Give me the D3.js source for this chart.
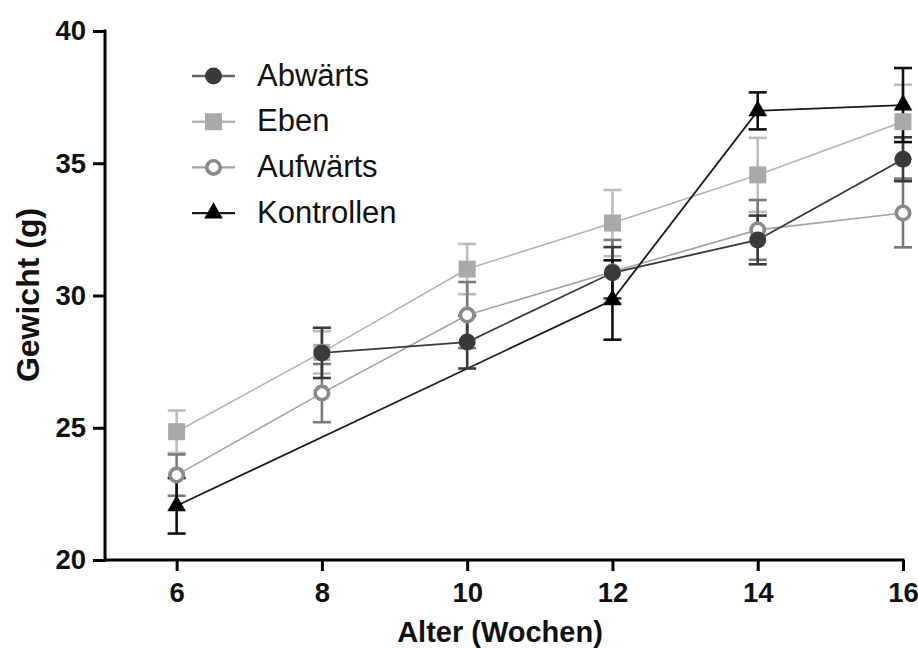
<!DOCTYPE html>
<html>
<head>
<meta charset="utf-8">
<script src="https://cdn.jsdelivr.net/npm/d3@7"></script>
<style>
  html, body { margin: 0; padding: 0; background: #fff; }
  svg { display: block; font-family: "Liberation Sans", Arial, sans-serif; }
</style>
</head>
<body>
<svg id="chart" width="918" height="648"></svg>
<script>
// Body weight by age, four groups (mean ± SD); null = not measured
const weeks = [6, 8, 10, 12, 14, 16];
const seriesNames = ["Abwärts", "Eben", "Aufwärts", "Kontrollen"];
const abwaerts     = [null, 27.83, 28.24, 30.86, 32.10, 35.15];
const abwaertsErr  = [null, 0.95, 1.00, 0.97, 0.92, 0.83];
const eben         = [24.85, 27.85, 31.00, 32.74, 34.56, 36.57];
const ebenErr      = [0.80, 0.80, 0.95, 1.25, 1.40, 1.40];
const aufwaerts    = [23.21, 26.31, 29.26, 30.90, 32.48, 33.12];
const aufwaertsErr = [0.78, 1.10, 1.25, 1.20, 1.13, 1.30];
const kontrollen   = [22.05, null, null, 29.83, 36.98, 37.20];
const kontrollenErr= [1.05, null, null, 1.50, 0.70, 1.40];
const yTicks = [20, 25, 30, 35, 40];
const xTicks = [6, 8, 10, 12, 14, 16];

const styles = {
  "Abwärts":    { shape: "circle",   fill: "#3a3a3a", stroke: "#3a3a3a", line: "#3a3a3a", err: "#3a3a3a", lw: 1.8 },
  "Eben":       { shape: "square",   fill: "#a9a9a9", stroke: "#a9a9a9", line: "#b4b4b4", err: "#bdbdbd", lw: 1.6 },
  "Aufwärts":   { shape: "open",     fill: "#ffffff", stroke: "#8a8a8a", line: "#a2a2a2", err: "#7a7a7a", lw: 1.6 },
  "Kontrollen": { shape: "triangle", fill: "#000000", stroke: "#000000", line: "#1a1a1a", err: "#111111", lw: 1.8 }
};

const series = [
  { name: "Abwärts",    values: abwaerts,   errs: abwaertsErr },
  { name: "Eben",       values: eben,       errs: ebenErr },
  { name: "Aufwärts",   values: aufwaerts,  errs: aufwaertsErr },
  { name: "Kontrollen", values: kontrollen, errs: kontrollenErr }
].map(s => ({
  ...s,
  points: weeks.map((w, i) => ({ x: w, y: s.values[i], e: s.errs[i] })).filter(p => p.y != null)
}));

const svg = d3.select("#chart");
const x = d3.scaleLinear().domain([5, 16]).range([104, 903]);
const y = d3.scaleLinear().domain([20, 40]).range([560, 31]);

// axes
const xAxis = svg.append("g").attr("transform", "translate(0,560)")
  .call(d3.axisBottom(x).tickValues(xTicks).tickFormat(d3.format("d")).tickSize(11).tickSizeOuter(0).tickPadding(11));
const yAxis = svg.append("g").attr("transform", "translate(105,0)")
  .call(d3.axisLeft(y).tickValues(yTicks).tickFormat(d3.format("d")).tickSize(12).tickSizeOuter(0).tickPadding(7));
[xAxis, yAxis].forEach(g => {
  g.select(".domain").attr("stroke", "#000").attr("stroke-width", 3);
  g.selectAll(".tick line").attr("stroke", "#000").attr("stroke-width", 3);
  g.selectAll(".tick text").attr("fill", "#111").attr("font-size", 27.5).attr("font-weight", "bold")
    .attr("font-family", "'Liberation Sans', Arial, sans-serif");
});
xAxis.select(".domain").attr("d", `M${x(5) + 1},0H${x(16) + 1.5}`);
yAxis.select(".domain").attr("d", `M0,${y(20) + 1.5}V${y(40) - 1.5}`);

// axis titles
svg.append("text").attr("x", 500).attr("y", 642).attr("text-anchor", "middle")
  .attr("font-size", 29).attr("font-weight", "bold").attr("fill", "#111").text("Alter (Wochen)");
svg.append("text").attr("transform", "translate(39,295) rotate(-90)").attr("text-anchor", "middle")
  .attr("font-size", 32).attr("font-weight", "bold").attr("fill", "#111").text("Gewicht (g)");

const line = d3.line().x(d => x(d.x)).y(d => y(d.y));

// connecting lines
const drawOrder = ["Eben", "Aufwärts", "Abwärts", "Kontrollen"];
const ordered = drawOrder.map(n => series.find(s => s.name === n));
ordered.forEach(s => {
  const st = styles[s.name];
  svg.append("path").datum(s.points).attr("d", line)
    .attr("fill", "none").attr("stroke", st.line).attr("stroke-width", st.lw);
});

// error bars
ordered.forEach(s => {
  const st = styles[s.name];
  const g = svg.append("g").attr("stroke", st.err).attr("stroke-width", 2.6).attr("fill", "none");
  s.points.forEach(p => {
    const cx = x(p.x), y0 = y(p.y - p.e), y1 = y(p.y + p.e);
    g.append("line").attr("x1", cx).attr("x2", cx).attr("y1", y0).attr("y2", y1);
    g.append("line").attr("x1", cx - 9).attr("x2", cx + 9).attr("y1", y0).attr("y2", y0);
    g.append("line").attr("x1", cx - 9).attr("x2", cx + 9).attr("y1", y1).attr("y2", y1);
  });
});

function marker(sel, name) {
  const st = styles[name];
  if (st.shape === "circle") {
    sel.append("circle").attr("r", 8.5).attr("fill", st.fill);
  } else if (st.shape === "open") {
    sel.append("circle").attr("r", 6.7).attr("fill", "#fff").attr("stroke", st.stroke).attr("stroke-width", 3.6);
  } else if (st.shape === "square") {
    sel.append("rect").attr("x", -8.5).attr("y", -8.5).attr("width", 17).attr("height", 17).attr("fill", st.fill);
  } else {
    sel.append("path").attr("d", d3.symbol(d3.symbolTriangle, 150)()).attr("fill", st.fill);
  }
}

// markers
ordered.forEach(s => {
  s.points.forEach(p => {
    const g = svg.append("g").attr("transform", `translate(${x(p.x)},${y(p.y)})`);
    marker(g, s.name);
  });
});

// legend
const legend = svg.append("g");
seriesNames.forEach((name, i) => {
  const st = styles[name];
  const cy = 76 + i * 45.7;
  legend.append("line").attr("x1", 192).attr("x2", 235).attr("y1", cy).attr("y2", cy)
    .attr("stroke", name === "Abwärts" ? "#666" : st.line).attr("stroke-width", 2.4);
  const g = legend.append("g").attr("transform", `translate(213.5,${cy})`);
  marker(g, name);
  legend.append("text").attr("x", 257).attr("y", cy + 9.5).attr("font-size", 31)
    .attr("fill", "#111").text(name);
});
</script>
</body>
</html>
